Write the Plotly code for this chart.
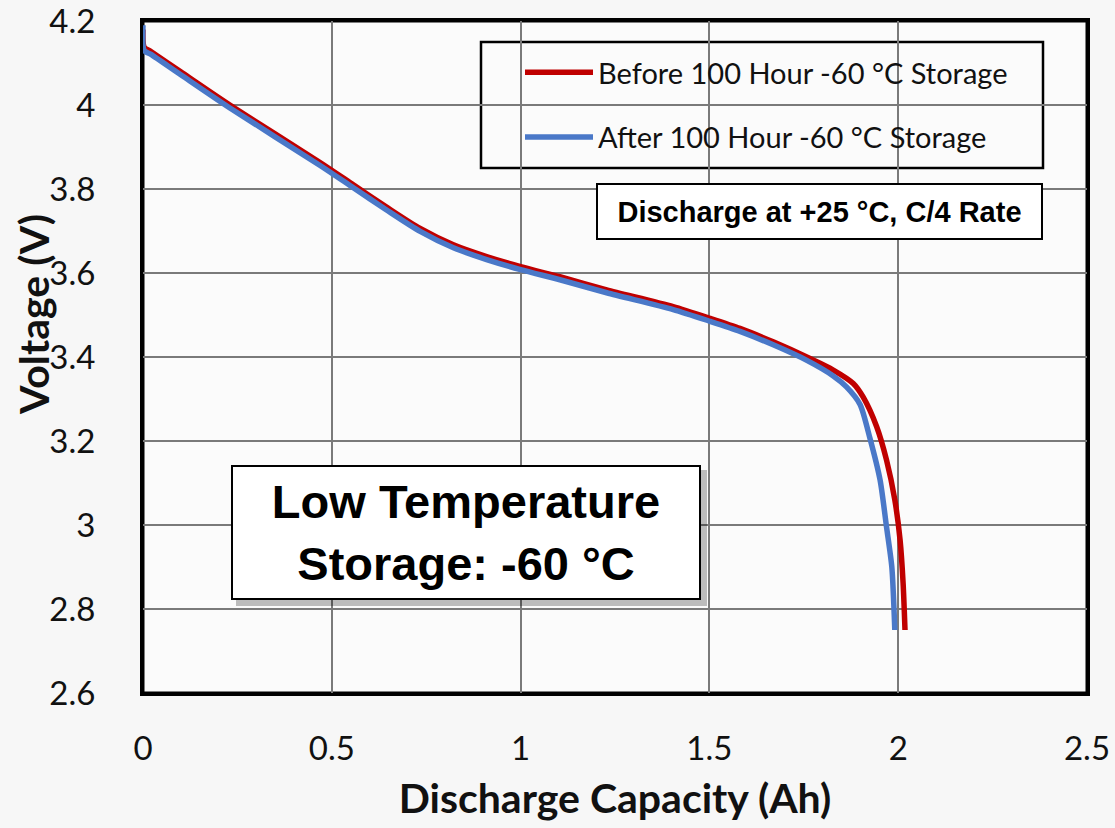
import plotly.graph_objects as go

# ---- data ----
capacity_before = [0, 0.003, 0.02, 0.1, 0.23, 0.469, 0.557, 0.645, 0.734, 0.822, 0.91, 1.0, 1.104, 1.228,
                   1.404, 1.502, 1.581, 1.669, 1.758, 1.828, 1.881, 1.907, 1.943, 1.969, 1.991, 2.005, 2.013, 2.018]
voltage_before = [4.18, 4.138, 4.128, 4.079, 4.0, 3.863, 3.81, 3.757, 3.706, 3.667, 3.639, 3.615, 3.591, 3.56,
                  3.52, 3.492, 3.468, 3.436, 3.4, 3.369, 3.337, 3.305, 3.234, 3.155, 3.06, 2.964, 2.861, 2.75]

capacity_after = [0, 0.003, 0.02, 0.1, 0.23, 0.469, 0.557, 0.645, 0.734, 0.822, 0.91, 1.0, 1.104, 1.228,
                  1.404, 1.502, 1.581, 1.669, 1.758, 1.828, 1.863, 1.899, 1.925, 1.952, 1.969, 1.983, 1.991]
voltage_after = [4.19, 4.13, 4.121, 4.072, 3.993, 3.856, 3.803, 3.75, 3.699, 3.66, 3.632, 3.608, 3.584, 3.553,
                 3.513, 3.485, 3.461, 3.429, 3.392, 3.355, 3.329, 3.287, 3.207, 3.107, 2.996, 2.901, 2.75]

series_names = ["Before 100 Hour -60 °C Storage", "After 100 Hour -60 °C Storage"]

x_tickvals = [0, 0.5, 1, 1.5, 2, 2.5]
x_ticktext = ["0", "0.5", "1", "1.5", "2", "2.5"]
y_tickvals = [2.6, 2.8, 3.0, 3.2, 3.4, 3.6, 3.8, 4.0, 4.2]
y_ticktext = ["2.6", "2.8", "3", "3.2", "3.4", "3.6", "3.8", "4", "4.2"]

x_title = "Discharge Capacity (Ah)"
y_title = "Voltage (V)"
note_text = "Discharge at +25 °C, C/4 Rate"
box_text = "Low Temperature<br>Storage: -60 °C"

RED = "#C00000"
BLUE = "#4A78C8"

# ---- figure (body margin removed by post_script, so figure origin = page origin) ----
W, H = 1115, 828
L, T, R, B = 143, 21, 28, 135
pw, ph = W - L - R, H - T - B


def px(xpage):
    return (xpage - L) / pw


def py(ypage):
    return (H - B - ypage) / ph


fig = go.Figure()
fig.add_trace(go.Scatter(x=capacity_before, y=voltage_before, mode="lines", name=series_names[0],
                         line=dict(color=RED, width=5.5, shape="spline", smoothing=0.7),
                         legendgroup="a"))
fig.add_trace(go.Scatter(x=capacity_after, y=voltage_after, mode="lines", name=series_names[1],
                         line=dict(color=BLUE, width=5.5, shape="spline", smoothing=0.7),
                         legendgroup="b"))

tick_font = dict(family="Lato", size=33, color="#111111")
title_font = dict(family="Lato", size=41, color="#111111", weight="bold")

fig.update_layout(
    width=W, height=H,
    margin=dict(l=L, r=R, t=T, b=B, pad=0, autoexpand=False),
    paper_bgcolor="#f7f7f7",
    plot_bgcolor="#fbfbfb",
    showlegend=True,
    legend=dict(x=px(520), y=py(47), xanchor="left", yanchor="top",
                bgcolor="rgba(0,0,0,0)", borderwidth=0,
                font=dict(family="Lato", size=29, color="#111111"),
                tracegroupgap=24, itemwidth=68),
    xaxis=dict(range=[0, 2.5], tickvals=x_tickvals, ticktext=x_ticktext,
               showgrid=True, gridcolor="#7a7a7a", gridwidth=1.5,
               showline=True, linecolor="black", linewidth=3, mirror=True,
               zeroline=False, ticks="", ticklabelstandoff=24, tickfont=tick_font,
               ticklabeloverflow="allow", automargin=False,
               title=dict(text=x_title, font=title_font, standoff=19)),
    yaxis=dict(range=[2.6, 4.2], tickvals=y_tickvals, ticktext=y_ticktext,
               showgrid=True, gridcolor="#7a7a7a", gridwidth=1.5,
               showline=True, linecolor="black", linewidth=3, mirror=True,
               zeroline=False, ticks="", ticklabelstandoff=38, tickfont=tick_font,
               ticklabeloverflow="allow", automargin=False),
)

# y-axis title, placed higher than the axis centre as in the reference
fig.add_annotation(xref="paper", yref="paper", x=px(33), y=py(315),
                   xanchor="center", yanchor="middle", textangle=-90,
                   text=y_title, showarrow=False, font=title_font)

# plot frame
fig.add_shape(type="rect", xref="paper", yref="paper", x0=0, x1=1, y0=0, y1=1,
              line=dict(color="black", width=3), fillcolor="rgba(0,0,0,0)", layer="between")

# legend frame
fig.add_shape(type="rect", xref="paper", yref="paper",
              x0=px(481), x1=px(1043), y0=py(168), y1=py(42),
              line=dict(color="black", width=2.5), fillcolor="#fbfbfb", layer="below")

# note box
fig.add_annotation(xref="paper", yref="paper", x=px(819.5), y=py(211.5),
                   xanchor="center", yanchor="middle",
                   text=note_text, showarrow=False, width=443, height=53,
                   font=dict(family="Liberation Sans", size=29, color="black", weight="bold"),
                   bgcolor="white", bordercolor="black", borderwidth=2, borderpad=0)

# shadow + low temperature box
fig.add_shape(type="rect", xref="paper", yref="paper",
              x0=px(236), x1=px(707), y0=py(606), y1=py(470),
              line=dict(width=0), fillcolor="rgba(0,0,0,0.25)", layer="above")
fig.add_annotation(xref="paper", yref="paper", x=px(466), y=py(532.5),
                   xanchor="center", yanchor="middle",
                   text=box_text, showarrow=False, width=466, height=131,
                   font=dict(family="Liberation Sans", size=47, color="black", weight="bold"),
                   bgcolor="white", bordercolor="black", borderwidth=2, borderpad=0)

fig.write_html("out.html", config={"displayModeBar": False},
               post_script="document.body.style.margin='0px';")
